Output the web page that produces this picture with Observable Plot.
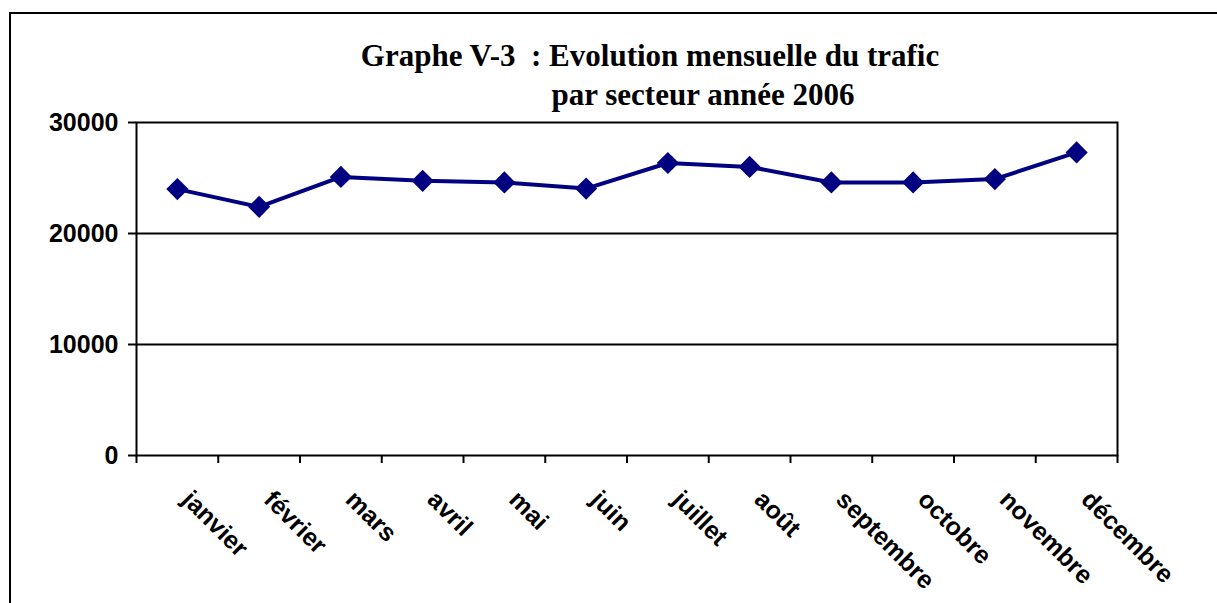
<!DOCTYPE html>
<html><head><meta charset="utf-8">
<script src="https://cdn.jsdelivr.net/npm/d3@7"></script>
<script src="https://cdn.jsdelivr.net/npm/@observablehq/plot@0.6"></script>
<style>
body{margin:0;background:#fff;}
#wrap{position:relative;width:1217px;height:603px;overflow:hidden;background:#fff;}
#border{position:absolute;left:9px;top:12px;width:1400px;height:800px;border:2px solid #000;box-sizing:border-box;}
.t{position:absolute;font-family:"Liberation Serif","Times New Roman",serif;font-weight:bold;font-size:31px;line-height:31px;white-space:pre;transform:translateX(-50%);color:#000;}
#chart{position:absolute;left:0;top:0;}
</style></head><body>
<div id="wrap"><div id="border"></div><div id="chart"></div>
<div class="t" style="left:650px;top:40px">Graphe V-3  : Evolution mensuelle du trafic</div>
<div class="t" style="left:703px;top:79px">par secteur année 2006</div>
</div>
<script>
const months = ["janvier","février","mars","avril","mai","juin","juillet","août","septembre","octobre","novembre","décembre"];
const trafic = [24000, 22400, 25100, 24750, 24600, 24050, 26350, 26000, 24600, 24600, 24900, 27300];
const yTicks = [0, 10000, 20000, 30000];
const gridTicks = [10000, 20000];

const data = months.map((m, i) => ({month: m, idx: i, value: trafic[i]}));
const xPos = d => d.idx + 0.5;

const chart = Plot.plot({
  width: 1217, height: 603,
  marginLeft: 136, marginRight: 100, marginTop: 122, marginBottom: 148,
  style: {background: "transparent", fontFamily: "'Liberation Sans', Arial, sans-serif", fontSize: "25px", fontWeight: "bold", color: "#000"},
  x: {type: "linear", domain: [0, months.length], label: null},
  y: {domain: [0, 30000], label: null},
  marks: [
    Plot.gridY(gridTicks, {stroke: "#000", strokeOpacity: 1, strokeWidth: 2}),
    Plot.frame({stroke: "#000", strokeWidth: 2}),
    Plot.axisY(yTicks, {tickSize: 8, tickPadding: 10, tickFormat: d => String(d), fontSize: 25, fontWeight: "bold", strokeWidth: 2}),
    Plot.axisX(d3.range(months.length + 1), {tickSize: 8, tickFormat: () => "", strokeWidth: 2}),
    Plot.text(data, {x: xPos, y: 0, text: "month", rotate: 45, textAnchor: "start", lineAnchor: "top", dx: 16, dy: 33, fontSize: 25, fontWeight: "bold", fill: "#000"}),
    Plot.line(data, {x: xPos, y: "value", stroke: "#000080", strokeWidth: 4}),
    Plot.dot(data, {x: xPos, y: "value", symbol: "diamond2", r: 10, fill: "#000080", stroke: "none"})
  ]
});
document.getElementById("chart").appendChild(chart);
</script>
</body></html>
